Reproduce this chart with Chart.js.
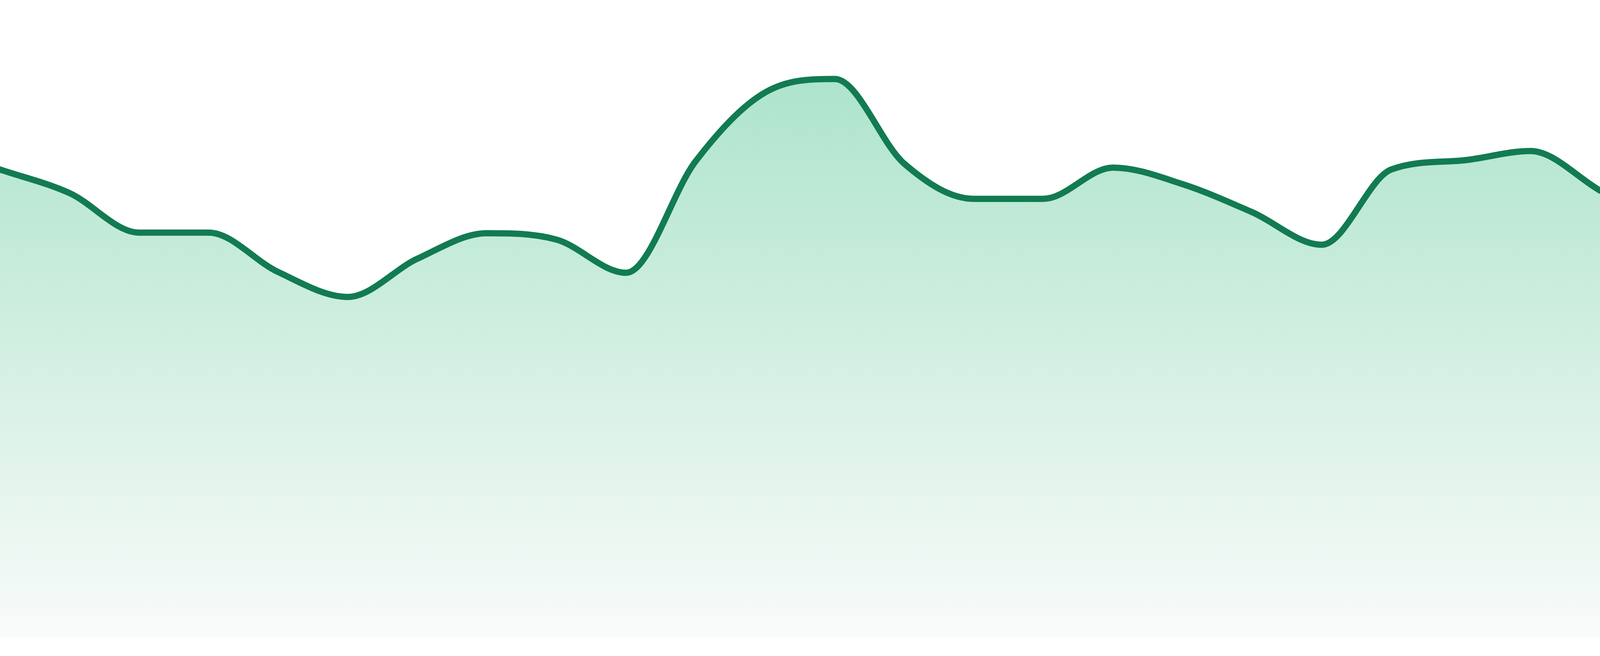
<!DOCTYPE html>
<html>
<head>
<meta charset="utf-8">
<script src="https://cdn.jsdelivr.net/npm/chart.js@4/dist/chart.umd.min.js"></script>
<style>
  html, body { margin: 0; padding: 0; background: #ffffff; overflow: hidden; }
  #wrap { width: 100vw; height: 100vh; position: relative; }
</style>
</head>
<body>
<div id="wrap"><canvas id="c"></canvas></div>
<script>
const labels = ["P1","P2","P3","P4","P5","P6","P7","P8","P9","P10","P11","P12",
                "P13","P14","P15","P16","P17","P18","P19","P20","P21","P22","P23","P24"];
const values = [73.4, 69.7, 63.5, 63.5, 57.3, 53.4, 59.4, 63.4, 62.4, 57.2, 74.7, 85.5,
                87.6, 74.3, 68.8, 68.8, 73.7, 71.1, 66.7, 61.6, 73.4, 74.8, 76.3, 70.1];
const yMin = 0;
const yMax = 100;

const lineColor = '#127b52';
// scale factor: reference is 4800x1680 device pixels
const k = window.innerHeight / 1680;

function fillGradient(ctx) {
  const chart = ctx.chart;
  const area = chart.chartArea;
  if (!area) return 'rgba(16,185,129,0.3)';
  const g = chart.ctx.createLinearGradient(0, area.top, 0, area.bottom);
  g.addColorStop(0, 'rgb(163,225,197)');
  g.addColorStop(1, 'rgb(249,251,250)');
  return g;
}

new Chart(document.getElementById('c'), {
  type: 'line',
  data: {
    labels: labels,
    datasets: [{
      data: values,
      borderColor: lineColor,
      borderWidth: 16 * k,
      backgroundColor: fillGradient,
      fill: 'start',
      cubicInterpolationMode: 'monotone',
      pointRadius: 0,
      pointHoverRadius: 0,
      borderJoinStyle: 'round',
      borderCapStyle: 'round'
    }]
  },
  options: {
    responsive: true,
    maintainAspectRatio: false,
    animation: false,
    layout: { padding: { top: 0, bottom: 48 * k, left: 0, right: 0 } },
    plugins: { legend: { display: false }, tooltip: { enabled: false } },
    scales: {
      x: { display: false },
      y: { display: false, min: yMin, max: yMax }
    }
  }
});
</script>
</body>
</html>
